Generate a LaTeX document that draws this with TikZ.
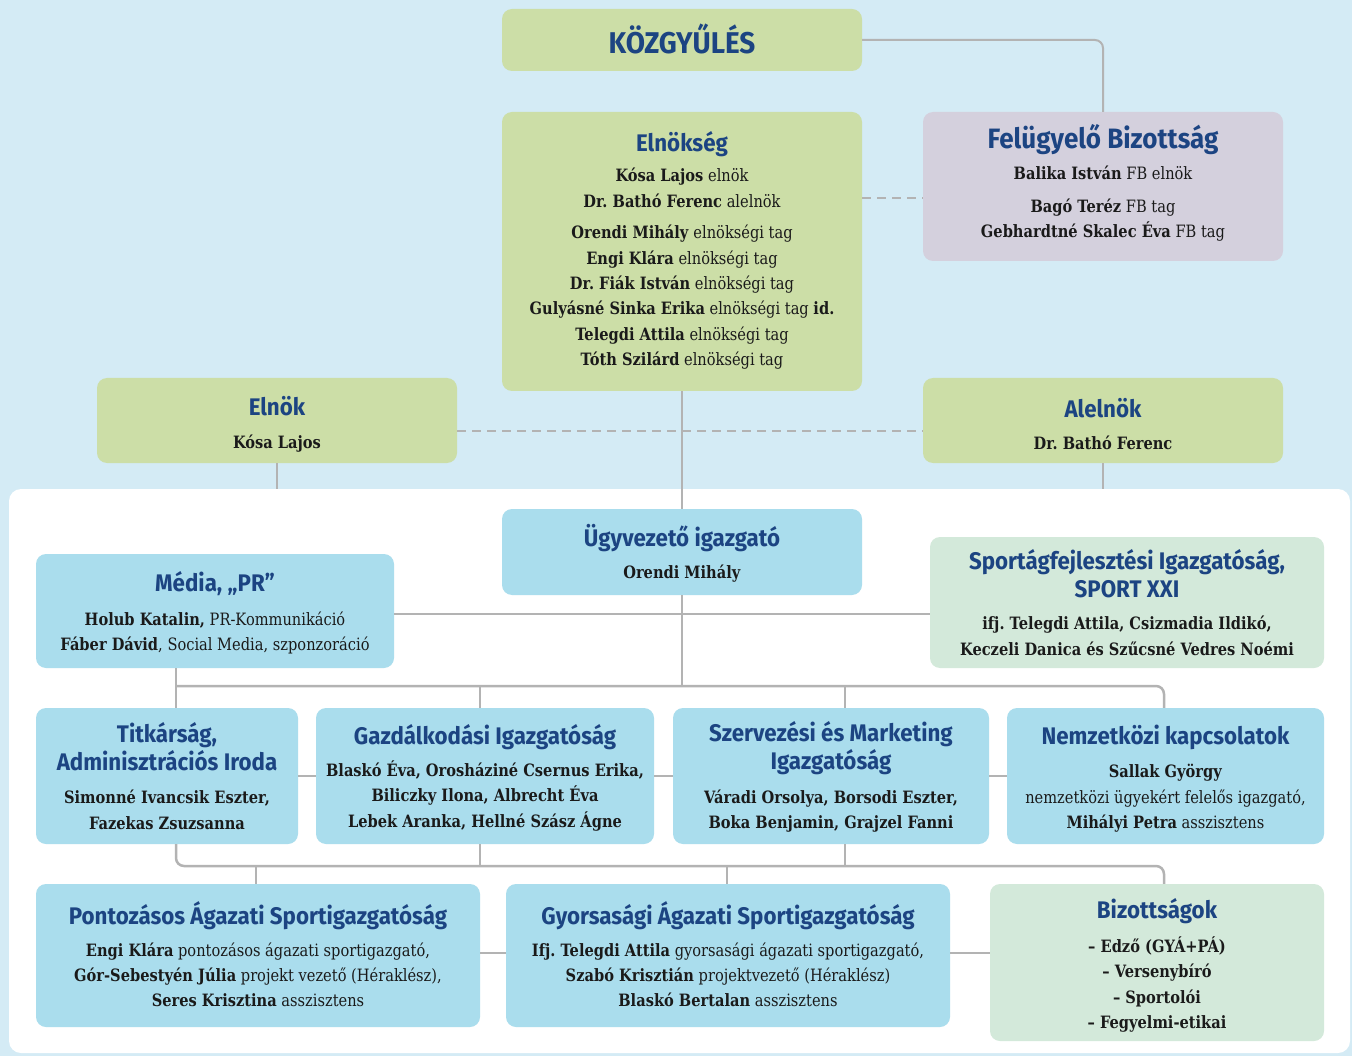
\documentclass[tikz,border=0pt]{standalone}
\usepackage{fontspec}
\setmainfont{DejaVu Serif}[FakeStretch=0.86]
\newfontfamily\ttlfont{Fira Sans}[FakeStretch=0.93]
\definecolor{bgblue}{HTML}{D4EBF5}
\definecolor{boxgreen}{HTML}{CCDEA7}
\definecolor{boxpurple}{HTML}{D4D0DD}
\definecolor{boxblue}{HTML}{AADDED}
\definecolor{boxlgreen}{HTML}{D3E9DA}
\definecolor{tblue}{HTML}{1C4482}
\definecolor{linegrey}{HTML}{B3B3B3}
\definecolor{bodyblack}{HTML}{1A1A1A}
\newcommand\ttl{\ttlfont\bfseries\fontsize{24}{28}\selectfont\color{tblue}}
\newcommand\ttlfb{\ttlfont\bfseries\fontsize{28}{30}\selectfont\color{tblue}}
\newcommand\ttlbig{\ttlfont\bfseries\fontsize{30}{32}\selectfont\color{tblue}}
\tikzset{
  boxbase/.style n args={2}{rounded corners=10pt, inner sep=0pt, minimum width=#1pt, minimum height=#2pt},
  gbox/.style n args={2}{boxbase={#1}{#2}, fill=boxgreen},
  pbox/.style n args={2}{boxbase={#1}{#2}, fill=boxpurple},
  bbox/.style n args={2}{boxbase={#1}{#2}, fill=boxblue},
  lbox/.style n args={2}{boxbase={#1}{#2}, fill=boxlgreen},
  txt/.style={inner sep=0pt, align=center, text=bodyblack, font=\fontsize{17}{25.4}\selectfont\frenchspacing},
  conn/.style={draw=linegrey, line width=2pt},
  dconn/.style={draw=linegrey, line width=2.5pt, dash pattern=on 9pt off 6pt},
}
\begin{document}
\begin{tikzpicture}[x=1pt, y=-1pt]
\useasboundingbox (0,0) rectangle (1352,1056);
\fill[bgblue] (0,0) rectangle (1352,1056);
\fill[white, rounded corners=12pt] (9,489) rectangle (1350,1053);

% coordinates
\coordinate (ptop) at (0,489);
\coordinate (bus1) at (0,686);
\coordinate (bus2) at (0,866);
\coordinate (xa) at (176,0);
\coordinate (xg) at (480,0);
\coordinate (xs) at (845,0);
\coordinate (xn) at (1164,0);
\coordinate (xp) at (256,0);
\coordinate (xy) at (727,0);

% boxes
\node[gbox={360}{62}] (kgy) at (682,40) {};
\node[gbox={360}{279}] (elnokseg) at (682,251.5) {};
\node[pbox={360}{149}] (fb) at (1103,186.5) {};
\node[gbox={360}{85}] (elnok) at (277,420.5) {};
\node[gbox={360}{85}] (alelnok) at (1103,420.5) {};
\node[bbox={360}{86}] (ugy) at (682,552) {};
\node[bbox={358}{114}] (media) at (215,611) {};
\node[lbox={394}{131}] (sport) at (1127,602.5) {};
\node[bbox={262}{136}] (titk) at (167,776) {};
\node[bbox={338}{136}] (gazd) at (485,776) {};
\node[bbox={316}{136}] (szerv) at (831,776) {};
\node[bbox={317}{136}] (nemz) at (1165.5,776) {};
\node[bbox={444}{143}] (pont) at (258,955.5) {};
\node[bbox={444}{143}] (gyors) at (728,955.5) {};
\node[lbox={334}{157}] (biz) at (1157,962.5) {};

% texts
\node[txt] (kgyT) at ([yshift=1pt]kgy.center) {\ttlbig KÖZGYŰLÉS};
\node[txt] (elnoksegT) at ([yshift=1pt]elnokseg.center) {{\ttl Elnökség}\\[5pt]
\textbf{Kósa Lajos} elnök\\
\textbf{Dr. Bathó Ferenc} alelnök\\[6pt]
\textbf{Orendi Mihály} elnökségi tag\\
\textbf{Engi Klára} elnökségi tag\\
\textbf{Dr. Fiák István} elnökségi tag\\
\textbf{Gulyásné Sinka Erika} elnökségi tag \textbf{id.}\\
\textbf{Telegdi Attila} elnökségi tag\\
\textbf{Tóth Szilárd} elnökségi tag};
\node[txt] (fbT) at ([yshift=3.5pt]fb.center) {{\ttlfb Felügyelő Bizottság}\\[5pt]
\textbf{Balika István} FB elnök\\[7.5pt]
\textbf{Bagó Teréz} FB tag\\
\textbf{Gebhardtné Skalec Éva} FB tag};
\node[txt] (elnokT) at ([yshift=-4pt]elnok.center) {{\ttl Elnök}\\[8pt]\textbf{Kósa Lajos}};
\node[txt] (alelnokT) at ([yshift=-3.5pt]alelnok.center) {{\ttl Alelnök}\\[7pt]\textbf{Dr. Bathó Ferenc}};
\node[txt] (ugyT) at ([yshift=-1pt]ugy.center) {{\ttl Ügyvezető igazgató}\\[7pt]\textbf{Orendi Mihály}};
\node[txt] (mediaT) at ([yshift=-2pt]media.center) {{\ttl Média, „PR”}\\[8pt]
\textbf{Holub Katalin,} PR-Kommunikáció\\
\textbf{Fáber Dávid}, Social Media, szponzoráció};
\node[txt] (sportT) at (sport.center) {{\ttl Sportágfejlesztési Igazgatóság,}\\[2.6pt]{\ttl SPORT XXI}\\[7pt]
\textbf{ifj. Telegdi Attila, Csizmadia Ildikó,}\\
\textbf{Keczeli Danica és Szűcsné Vedres Noémi}};
\node[txt] (titkT) at (titk.center) {{\ttl Titkárság,}\\[2.6pt]{\ttl Adminisztrációs Iroda}\\[8pt]
\textbf{Simonné Ivancsik Eszter,}\\
\textbf{Fazekas Zsuzsanna}};
\node[txt] (gazdT) at ([yshift=-1.5pt]gazd.center) {{\ttl Gazdálkodási Igazgatóság}\\[7pt]
\textbf{Blaskó Éva, Orosháziné Csernus Erika,}\\
\textbf{Biliczky Ilona, Albrecht Éva}\\
\textbf{Lebek Aranka, Hellné Szász Ágne}};
\node[txt] (szervT) at ([yshift=-1pt]szerv.center) {{\ttl Szervezési és Marketing}\\[2.6pt]{\ttl Igazgatóság}\\[8pt]
\textbf{Váradi Orsolya, Borsodi Eszter,}\\
\textbf{Boka Benjamin, Grajzel Fanni}};
\node[txt] (nemzT) at ([yshift=-2.5pt]nemz.center) {{\ttl Nemzetközi kapcsolatok}\\[8pt]
\textbf{Sallak György}\\
nemzetközi ügyekért felelős igazgató,\\
\textbf{Mihályi Petra} asszisztens};
\node[txt] (pontT) at ([yshift=1pt]pont.center) {{\ttl Pontozásos Ágazati Sportigazgatóság}\\[6pt]
\textbf{Engi Klára} pontozásos ágazati sportigazgató,\\
\textbf{Gór-Sebestyén Júlia} projekt vezető (Héraklész),\\
\textbf{Seres Krisztina} asszisztens};
\node[txt] (gyorsT) at ([yshift=1pt]gyors.center) {{\ttl Gyorsasági Ágazati Sportigazgatóság}\\[6pt]
\textbf{Ifj. Telegdi Attila} gyorsasági ágazati sportigazgató,\\
\textbf{Szabó Krisztián} projektvezető (Héraklész)\\
\textbf{Blaskó Bertalan} asszisztens};
\node[txt] (bizT) at ([yshift=-3pt]biz.center) {{\ttl Bizottságok}\\[8pt]
\textbf{– Edző (GYÁ+PÁ)}\\
\textbf{– Versenybíró}\\
\textbf{– Sportolói}\\
\textbf{– Fegyelmi-etikai}};

% connectors
\draw[conn, rounded corners=8pt] (kgy.east) -| (fb.north);
\draw[dconn] (elnokseg.east |- 0,198) -- (fb.west |- 0,198);
\draw[dconn] (elnok.east |- 0,431) -- (alelnok.west |- 0,431);
\draw[conn] (elnokseg.south) -- (ugy.north);
\draw[conn] (elnok.south) -- (elnok.south |- ptop);
\draw[conn] (alelnok.south) -- (alelnok.south |- ptop);
\draw[conn, line width=2.8pt] (media.east |- 0,614) -- (sport.west |- 0,614);
\draw[conn] (ugy.south) -- (ugy.south |- bus1);
\draw[conn] (media.south -| xa) -- (titk.north -| xa);
\draw[conn, line width=2.5pt, rounded corners=8pt] (xa |- bus1) -| (nemz.north -| xn);
\draw[conn] (xg |- bus1) -- (gazd.north -| xg);
\draw[conn] (xs |- bus1) -- (szerv.north -| xs);
\draw[conn] (titk.east) -- (gazd.west);
\draw[conn] (gazd.east) -- (szerv.west);
\draw[conn] (szerv.east) -- (nemz.west);
\draw[conn, line width=2.5pt, rounded corners=8pt] (titk.south -| xa) |- (xn |- bus2) -- (biz.north -| xn);
\draw[conn] (gazd.south -| xg) -- (xg |- bus2);
\draw[conn] (szerv.south -| xs) -- (xs |- bus2);
\draw[conn] (xp |- bus2) -- (pont.north -| xp);
\draw[conn] (xy |- bus2) -- (gyors.north -| xy);
\draw[conn] (pont.east |- 0,953) -- (gyors.west |- 0,953);
\draw[conn] (gyors.east |- 0,953) -- (biz.west |- 0,953);
\end{tikzpicture}
\end{document}
